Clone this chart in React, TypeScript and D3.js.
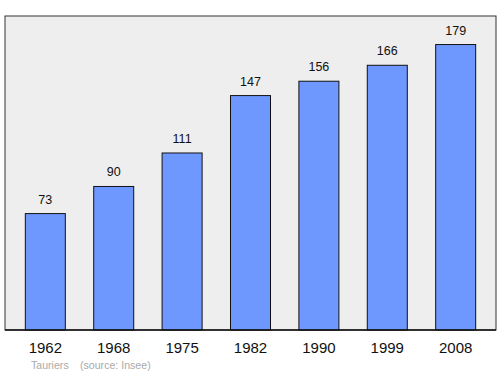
import React from "react";
import * as d3 from "d3";

const years = ["1962", "1968", "1975", "1982", "1990", "1999", "2008"];
const population = [73, 90, 111, 147, 156, 166, 179];
const footerName = "Tauriers";
const footerSource = "(source: Insee)";

export default function App() {
  const W = 500, H = 374;
  const left = 5, right = 496, top = 16, bottom = 330;
  const x = d3.scaleBand<string>().domain(years).range([left, right]).paddingInner(0.415).paddingOuter(0.297);
  const y = d3.scaleLinear().domain([0, 179 * 1.1]).range([bottom, top]);
  return (
    <svg width={W} height={H} style={{ position: "absolute", left: 0, top: 0 }} fontFamily="'Liberation Sans', Arial, sans-serif">
      <rect x={left} y={top} width={right - left} height={bottom - top} fill="#eeeeee" stroke="#333" strokeWidth={1} />
      {years.map((yr, i) => (
        <g key={yr}>
          <rect x={x(yr)} y={y(population[i])} width={x.bandwidth()} height={bottom - y(population[i])} fill="#6f98ff" stroke="#111" strokeWidth={1} />
          <text x={x(yr)! + x.bandwidth() / 2} y={y(population[i]) - 10} textAnchor="middle" fontSize={12.5} fill="#111">{population[i]}</text>
          <text x={x(yr)! + x.bandwidth() / 2} y={352.5} textAnchor="middle" fontSize={15} fill="#111">{yr}</text>
        </g>
      ))}
      <line x1={left} x2={right} y1={bottom} y2={bottom} stroke="#111" strokeWidth={1.5} />
      <text x={31} y={368.5} fontSize={10.6} fill="#aaa">{footerName}</text>
      <text x={80} y={368.5} fontSize={10.6} fill="#aaa">{footerSource}</text>
    </svg>
  );
}
